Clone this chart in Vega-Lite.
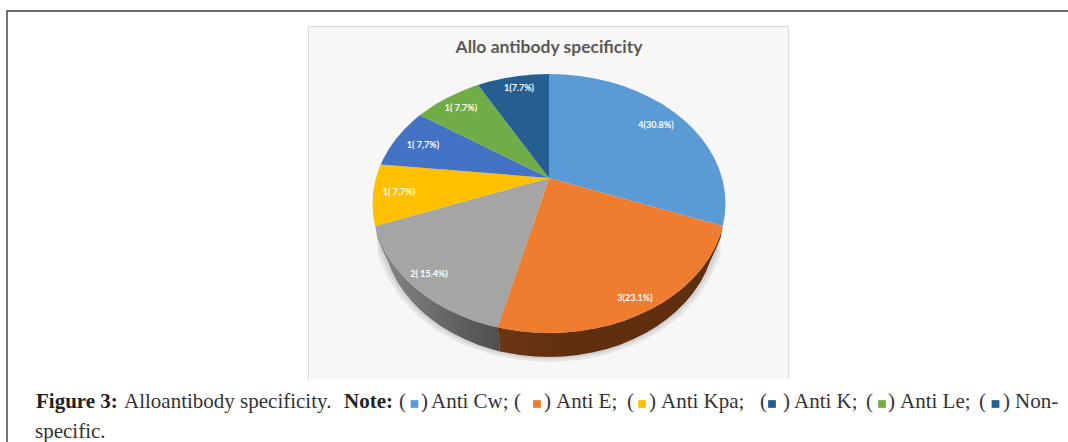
{
"$schema":"https://vega.github.io/schema/vega-lite/v6.json",
"width":1068,"height":442,"padding":0,
"autosize":{"type":"fit","contains":"padding"},
"background":"white",
"config":{"view":{"stroke":null}},
"projection":{"type":"identity","reflectY":true,"scale":1,"translate":[549,178]},
"datasets":{
"frame":[
{"type":"Feature","properties":{"part":"panelFill"},"geometry":{"type":"Polygon","coordinates":[[[-240.5,151.5],[239.5,151.5],[239.5,-201],[-240.5,-201],[-240.5,151.5]]]}},
{"type":"Feature","properties":{"part":"panelLine"},"geometry":{"type":"LineString","coordinates":[[-240.5,-201],[-240.5,151.5],[239.5,151.5],[239.5,-201]]}},
{"type":"Feature","properties":{"part":"pageLine"},"geometry":{"type":"LineString","coordinates":[[-542,-264],[-542,167],[519,167]]}}
],
"shadows":[
{"type":"Feature","properties":{"part":"outer"},"geometry":{"type":"Polygon","coordinates":[[[172,-48],[171.5,-77],[161.6,-98.8],[148.9,-119.3],[131.7,-137.7],[110.5,-153.7],[86,-166.6],[58.8,-176.2],[29.9,-182],[0,-184],[-29.9,-182],[-58.8,-176.2],[-86,-166.6],[-110.5,-153.7],[-131.7,-137.7],[-148.9,-119.3],[-161.6,-98.8],[-171.5,-77],[-172,-48],[172,-48]]]}},
{"type":"Feature","properties":{"part":"inner"},"geometry":{"type":"Polygon","coordinates":[[[172,-48],[169,-74.5],[159.3,-96.3],[146.8,-116.8],[129.8,-135.2],[108.9,-151.2],[84.8,-164.1],[58,-173.7],[29.4,-179.5],[0,-181.5],[-29.4,-179.5],[-58,-173.7],[-84.8,-164.1],[-108.9,-151.2],[-129.8,-135.2],[-146.8,-116.8],[-159.3,-96.3],[-169,-74.5],[-172,-48],[172,-48]]]}}
],
"sides":[
{"type":"Feature","properties":{"part":"graySide"},"geometry":{"type":"Polygon","coordinates":[[[-51.3,-149.3],[-60.4,-147.2],[-74.6,-142.9],[-88.3,-137.6],[-101.2,-131.6],[-113.5,-124.7],[-124.8,-117.1],[-135.2,-108.7],[-144.6,-99.8],[-152.9,-90.3],[-160,-80.2],[-165.9,-69.8],[-170.5,-59],[-173.8,-48],[-171.5,-60],[-166.5,-72],[-161.3,-83],[-156.9,-93.8],[-151.4,-104.2],[-144.6,-114.3],[-136.8,-123.8],[-127.9,-132.7],[-118.1,-141.1],[-107.3,-148.7],[-95.8,-155.6],[-83.5,-161.6],[-70.6,-166.9],[-57.1,-171.2],[-49,-173.5],[-51.3,-149.3]]]}},
{"type":"Feature","properties":{"part":"orangeSide"},"geometry":{"type":"Polygon","coordinates":[[[173.8,-48],[170.5,-59],[165.9,-69.8],[160,-80.2],[152.9,-90.3],[144.6,-99.8],[135.2,-108.7],[124.8,-117.1],[113.5,-124.7],[101.2,-131.6],[88.3,-137.6],[74.6,-142.9],[60.4,-147.2],[45.7,-150.6],[30.6,-153],[15.4,-154.5],[0,-155],[-15.4,-154.5],[-30.6,-153],[-45.7,-150.6],[-51.3,-149.3],[-49,-173.5],[-43.2,-174.6],[-29,-177],[-14.6,-178.5],[0,-179],[14.6,-178.5],[29,-177],[43.2,-174.6],[57.1,-171.2],[70.6,-166.9],[83.5,-161.6],[95.8,-155.6],[107.3,-148.7],[118.1,-141.1],[127.9,-132.7],[136.8,-123.8],[144.6,-114.3],[151.4,-104.2],[156.9,-93.8],[161.3,-83],[166.5,-72],[171.5,-60],[173.8,-48]]]}}
],
"slices":[
{"type":"Feature","properties":{"name":"Anti Cw","count":4},"geometry":{"type":"Polygon","coordinates":[[[0,0],[0,104],[15.4,103.5],[30.6,102],[45.7,99.6],[60.4,96.2],[74.6,91.9],[88.3,86.6],[101.2,80.6],[113.5,73.7],[124.8,66.1],[135.2,57.7],[144.6,48.8],[152.9,39.3],[160,29.2],[165.9,18.8],[170.5,8],[173.8,-3],[175.8,-14.2],[176.5,-25.5],[175.8,-36.8],[173.8,-48],[0,0]]]}},
{"type":"Feature","properties":{"name":"Anti E","count":3},"geometry":{"type":"Polygon","coordinates":[[[0,0],[173.8,-48],[170.5,-59],[165.9,-69.8],[160,-80.2],[152.9,-90.3],[144.6,-99.8],[135.2,-108.7],[124.8,-117.1],[113.5,-124.7],[101.2,-131.6],[88.3,-137.6],[74.6,-142.9],[60.4,-147.2],[45.7,-150.6],[30.6,-153],[15.4,-154.5],[0,-155],[-15.4,-154.5],[-30.6,-153],[-45.7,-150.6],[-51.3,-149.3],[0,0]]]}},
{"type":"Feature","properties":{"name":"Unnamed","count":2},"geometry":{"type":"Polygon","coordinates":[[[0,0],[-51.3,-149.3],[-60.4,-147.2],[-74.6,-142.9],[-88.3,-137.6],[-101.2,-131.6],[-113.5,-124.7],[-124.8,-117.1],[-135.2,-108.7],[-144.6,-99.8],[-152.9,-90.3],[-160,-80.2],[-165.9,-69.8],[-170.5,-59],[-173.8,-48],[0,0]]]}},
{"type":"Feature","properties":{"name":"Anti Kpa","count":1},"geometry":{"type":"Polygon","coordinates":[[[0,0],[-173.8,-48],[-175.8,-36.8],[-176.5,-25.5],[-175.8,-14.2],[-173.8,-3],[-170.5,8],[-168.3,13.5],[0,0]]]}},
{"type":"Feature","properties":{"name":"Anti K","count":1},"geometry":{"type":"Polygon","coordinates":[[[0,0],[-168.3,13.5],[-165.9,18.8],[-160,29.2],[-152.9,39.3],[-144.6,48.8],[-135.2,57.7],[-129,63],[0,0]]]}},
{"type":"Feature","properties":{"name":"Anti Le","count":1},"geometry":{"type":"Polygon","coordinates":[[[0,0],[-129,63],[-124.8,66.1],[-113.5,73.7],[-101.2,80.6],[-88.3,86.6],[-74.6,91.9],[-71,93],[0,0]]]}},
{"type":"Feature","properties":{"name":"Non-specific","count":1},"geometry":{"type":"Polygon","coordinates":[[[0,0],[-71,93],[-60.4,96.2],[-45.7,99.6],[-30.6,102],[-15.4,103.5],[0,104],[0,0]]]}}
],
"labels":[
{"name":"Anti Cw","label":"4(30.8%)","lon":107,"lat":53},
{"name":"Anti E","label":"3(23.1%)","lon":86,"lat":-120},
{"name":"Unnamed","label":"2( 15.4%)","lon":-120,"lat":-96},
{"name":"Anti Kpa","label":"1( 7.7%)","lon":-150,"lat":-13.5},
{"name":"Anti K","label":"1( 7,7%)","lon":-126,"lat":33.5},
{"name":"Anti Le","label":"1( 7.7%)","lon":-88,"lat":70},
{"name":"Non-specific","label":"1(7.7%)","lon":-30,"lat":90}
],
"caption":[
{"text":"Figure 3:","bold":true,"lon":-513,"lat":-230},
{"text":"Alloantibody specificity.","bold":false,"lon":-425,"lat":-230},
{"text":"Note:","bold":true,"lon":-205,"lat":-230},
{"text":"(","bold":false,"lon":-150,"lat":-230},
{"text":")","bold":false,"lon":-128,"lat":-230},
{"text":"Anti Cw;","bold":false,"lon":-118,"lat":-230},
{"text":"(","bold":false,"lon":-35,"lat":-230},
{"text":")","bold":false,"lon":-5,"lat":-230},
{"text":"Anti E;","bold":false,"lon":7,"lat":-230},
{"text":"(","bold":false,"lon":78,"lat":-230},
{"text":")","bold":false,"lon":100,"lat":-230},
{"text":"Anti Kpa;","bold":false,"lon":112,"lat":-230},
{"text":"(","bold":false,"lon":211,"lat":-230},
{"text":")","bold":false,"lon":234,"lat":-230},
{"text":"Anti K;","bold":false,"lon":245,"lat":-230},
{"text":"(","bold":false,"lon":317,"lat":-230},
{"text":")","bold":false,"lon":339,"lat":-230},
{"text":"Anti Le;","bold":false,"lon":351,"lat":-230},
{"text":"(","bold":false,"lon":430,"lat":-230},
{"text":")","bold":false,"lon":454,"lat":-230},
{"text":"Non-","bold":false,"lon":466,"lat":-230},
{"text":"specific.","bold":false,"lon":-514,"lat":-260}
],
"swatches":[
{"name":"Anti Cw","lon":-134.5,"lat":-226},
{"name":"Anti E","lon":-12,"lat":-226},
{"name":"Anti Kpa","lon":93,"lat":-226},
{"name":"Anti K","lon":223,"lat":-226},
{"name":"Anti Le","lon":333,"lat":-226},
{"name":"Non-specific","lon":446.5,"lat":-226}
],
"title":[{"text":"Allo antibody specificity","lon":0,"lat":130.5}]
},
"layer":[
{"data":{"name":"frame"},"transform":[{"filter":"datum.properties.part=='panelFill'"}],"mark":{"type":"geoshape","fill":"#f7f7f7","stroke":null}},
{"data":{"name":"frame"},"transform":[{"filter":"datum.properties.part=='panelLine'"}],"mark":{"type":"geoshape","filled":false,"stroke":"#d9d9d9","strokeWidth":1}},
{"data":{"name":"frame"},"transform":[{"filter":"datum.properties.part=='pageLine'"}],"mark":{"type":"geoshape","filled":false,"stroke":"#3a3a3a","strokeWidth":1.4}},
{"data":{"name":"shadows"},"mark":{"type":"geoshape","fill":"#000000","fillOpacity":0.07,"stroke":null}},
{"data":{"name":"sides"},"transform":[{"filter":"datum.properties.part=='graySide'"}],"mark":{"type":"geoshape","stroke":null,"fill":{"gradient":"linear","x1":0,"x2":1,"y1":0,"y2":0,"stops":[{"offset":0,"color":"#8a8a8a"},{"offset":0.5,"color":"#6a6a6a"},{"offset":1,"color":"#4e4e4e"}]}}},
{"data":{"name":"sides"},"transform":[{"filter":"datum.properties.part=='orangeSide'"}],"mark":{"type":"geoshape","stroke":null,"fill":{"gradient":"linear","x1":0,"x2":1,"y1":0,"y2":0,"stops":[{"offset":0,"color":"#6b3614"},{"offset":0.3,"color":"#612f10"},{"offset":1,"color":"#5e2f0f"}]}}},
{"data":{"name":"slices"},"mark":{"type":"geoshape","stroke":null},
"encoding":{"color":{"field":"properties.name","type":"nominal","legend":null,"scale":{"domain":["Anti Cw","Anti E","Unnamed","Anti Kpa","Anti K","Anti Le","Non-specific"],"range":["#5b9bd5","#ef7d30","#a5a5a5","#ffc000","#4472c4","#70ad47","#255e91"]}}}},
{"data":{"name":"labels"},"mark":{"type":"text","font":"Lato","fontWeight":"bold","fontSize":9,"color":"white","align":"center","baseline":"middle"},
"encoding":{"longitude":{"field":"lon","type":"quantitative"},"latitude":{"field":"lat","type":"quantitative"},"text":{"field":"label"}}},
{"data":{"name":"title"},"mark":{"type":"text","font":"Lato","fontWeight":"bold","fontSize":17.5,"color":"#595959","align":"center","baseline":"middle"},
"encoding":{"longitude":{"field":"lon","type":"quantitative"},"latitude":{"field":"lat","type":"quantitative"},"text":{"field":"text"}}},
{"data":{"name":"caption"},"transform":[{"filter":"!datum.bold"}],"mark":{"type":"text","font":"Liberation Serif","fontSize":21,"color":"#333333","align":"left","baseline":"alphabetic"},
"encoding":{"longitude":{"field":"lon","type":"quantitative"},"latitude":{"field":"lat","type":"quantitative"},"text":{"field":"text"}}},
{"data":{"name":"caption"},"transform":[{"filter":"datum.bold"}],"mark":{"type":"text","font":"Liberation Serif","fontWeight":"bold","fontSize":21,"color":"#222222","align":"left","baseline":"alphabetic"},
"encoding":{"longitude":{"field":"lon","type":"quantitative"},"latitude":{"field":"lat","type":"quantitative"},"text":{"field":"text"}}},
{"data":{"name":"swatches"},"mark":{"type":"point","shape":"square","filled":true,"size":60,"opacity":1},
"encoding":{"longitude":{"field":"lon","type":"quantitative"},"latitude":{"field":"lat","type":"quantitative"},"color":{"field":"name","type":"nominal","legend":null,"scale":{"domain":["Anti Cw","Anti E","Anti Kpa","Anti K","Anti Le","Non-specific"],"range":["#5b9bd5","#ed7d31","#ffc000","#255e91","#70ad47","#255e91"]}}}}
],
"resolve":{"scale":{"color":"independent"}}
}
